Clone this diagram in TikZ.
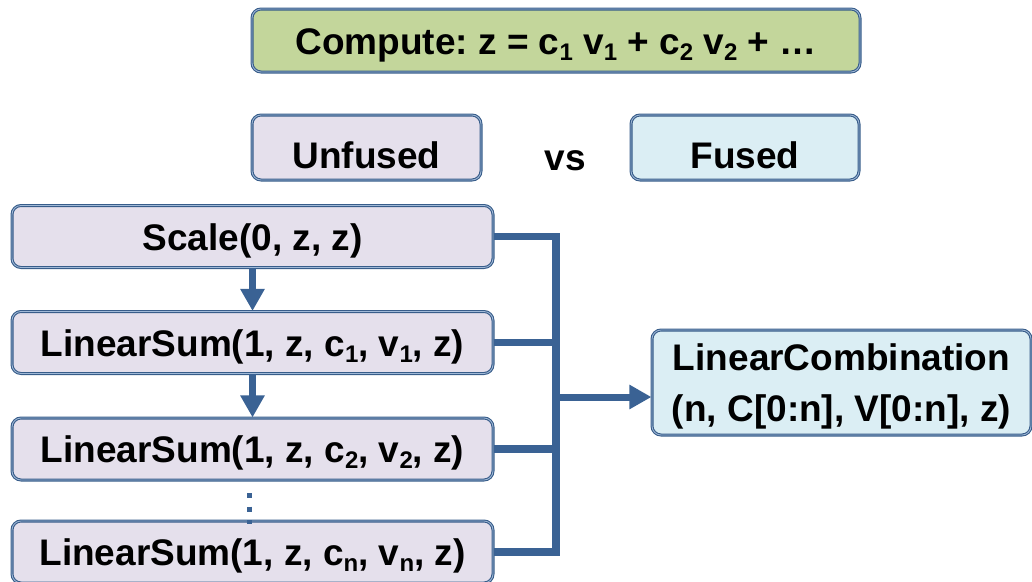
\documentclass[tikz,border=0pt]{standalone}
\usepackage{fontspec}
\setmainfont{Liberation Sans}
\usetikzlibrary{arrows.meta}
\frenchspacing

\definecolor{boxline}{RGB}{56,93,138}
\definecolor{boxlight}{RGB}{160,185,215}
\definecolor{wire}{RGB}{58,98,148}
\definecolor{lav}{RGB}{229,224,236}
\definecolor{sky}{RGB}{219,238,244}
\definecolor{sage}{RGB}{195,214,155}

% lowered small index, as in c_1
\newcommand{\sbs}[1]{\raisebox{-6pt}{\fontsize{24}{24}\selectfont #1}}

\begin{document}
\begin{tikzpicture}[x=1pt,y=-1pt,
  bigfont/.style={font=\fontsize{37}{51}\selectfont\bfseries},
  card/.style={bigfont, draw=boxline, line width=1.1pt, double=boxlight,
    double distance=0.8pt, rounded corners=9pt, inner sep=0pt, align=center},
  oneline/.style={text height=27pt, text depth=0pt},
  fnbox/.style={card, oneline, fill=lav, minimum width=481pt, minimum height=62pt},
  wireline/.style={draw=wire, line width=7.5pt, line join=miter},
  flowarrow/.style={draw=wire, line width=6.5pt, -{Triangle[width=23pt,length=22pt]}},
]
\useasboundingbox (0,0) rectangle (1032,581);

% headline
\node[card, oneline, fill=sage, minimum width=608pt, minimum height=63pt]
  (task) at (556,40.5) {Compute: z = c\sbs{1} v\sbs{1} + c\sbs{2} v\sbs{2} + …};

% the two variants
\node[card, text height=41pt, text depth=0pt, fill=lav, minimum width=229pt, minimum height=65pt]
  (unfused) at (366.5,147.5) {Unfused};
\node[bigfont, anchor=base] (vs) at (565,170) {vs};
\node[card, text height=41pt, text depth=0pt, fill=sky, minimum width=228pt, minimum height=65pt]
  (fused) at (745,147.5) {Fused};

% unfused sequence of calls
\node[fnbox] (sc)  at (252.5,236.5) {Scale(0, z, z)};
\node[fnbox] (ls1) at (252.5,342.5) {LinearSum(1, z, c\sbs{1}, v\sbs{1}, z)};
\node[fnbox] (ls2) at (252.5,449)   {LinearSum(1, z, c\sbs{2}, v\sbs{2}, z)};
\node[fnbox] (lsn) at (252.5,552)   {LinearSum(1, z, c\sbs{n}, v\sbs{n}, z)};

% fused call
\node[card, fill=sky, minimum width=379pt, minimum height=105pt, text depth=0pt]
  (lc) at (841.5,382.5) {LinearCombination\\(n, C[0:n], V[0:n], z)};

% order of the unfused calls
\draw[flowarrow] (sc.south) -- (ls1.north);
\draw[flowarrow] (ls1.south) -- (ls2.north);
\draw[draw=wire, line width=5pt, dash pattern=on 5pt off 8.5pt]
  ([xshift=-3.5pt,yshift=-12.5pt]ls2.south) -- ([xshift=-3.5pt,yshift=-4pt]lsn.north);

% collecting bus into the fused call
\coordinate (busx) at (556,0);
\coordinate (tap) at (556,397);
\draw[wireline] (sc.east) -- (sc.east -| busx) -- (lsn.east -| busx) -- (lsn.east);
\draw[wireline] (ls1.east) -- (ls1.east -| busx);
\draw[wireline] (ls2.east) -- (ls2.east -| busx);
\draw[flowarrow, line width=7pt] (tap) -- (tap -| lc.west);
\end{tikzpicture}
\end{document}
